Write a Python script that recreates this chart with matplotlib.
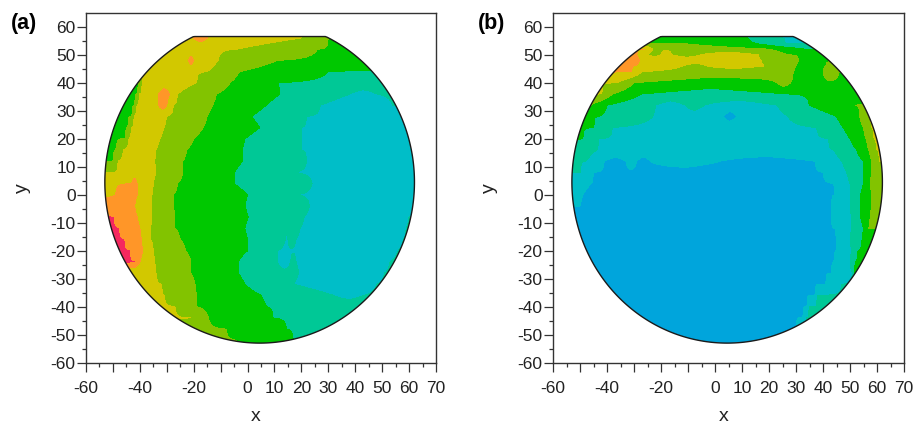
import numpy as np
import matplotlib
matplotlib.use("Agg")
import matplotlib.pyplot as plot
from matplotlib.patches import Polygon
from matplotlib.ticker import MultipleLocator

plot.rcParams['font.family'] = ['Liberation Sans', 'DejaVu Sans']
plot.rcParams['axes.unicode_minus'] = False

# band colours, low to high
band_colors = ['#00A5DC', '#00BEC8', '#00C896', '#00C800', '#82C300', '#D2C800', '#FF9628', '#F5285F']

x_ticks = [-60, -50, -40, -30, -20, -10, 0, 10, 20, 30, 40, 50, 60, 70]
x_labels = ['-60', '', '-40', '', '-20', '', '0', '10', '20', '30', '40', '50', '60', '70']
y_ticks = [-60, -50, -40, -30, -20, -10, 0, 10, 20, 30, 40, 50, 60]

# wafer outline
wafer_cx = 4.5
wafer_cy = 4.5
wafer_r = 57.5
wafer_flat = 56.5

# each row: band, x where it ends, next band, ...
rows_y_a = [60, 56, 52, 48, 44, 40, 36, 32, 28, 24, 20, 16, 12, 8, 4, 0, -4, -8, -12, -16,
            -20, -24, -28, -32, -36, -40, -44, -48, -52, -56]

rows_a = [
    [5, -12, 6, 0, 5, 22, 4, 32, 3],
    [5, -20, 6, -15, 5, 20, 4, 30, 3],
    [5, -4, 4, 26, 3],
    [5, -22, 6, -20, 5, -11, 4, 11, 3],
    [5, -15, 4, -3, 3, 30, 2],
    [3, -39.5, 4, -39, 5, -19, 4, -6.5, 3, 11, 2],
    [3, -41, 4, -40, 5, -33, 6, -29, 5, -26, 4, -11.5, 3, 12, 2, 38, 1, 48, 2],
    [3, -42, 4, -41, 5, -33, 6, -30, 5, -27.5, 4, -13, 3, 7, 2, 27, 1, 54, 2],
    [3, -43, 4, -42, 5, -30, 4, -15, 3, 1.5, 2, 22, 1],
    [3, -44.5, 4, -43, 5, -31, 4, -16.5, 3, 4.5, 2, 20, 1],
    [3, -45.5, 4, -44, 5, -32.5, 4, -20, 3, -1, 2, 20, 1],
    [3, -48.6, 4, -46, 5, -34, 4, -22.6, 3, -2, 2, 20, 1],
    [3, -50, 4, -48, 5, -34.5, 4, -24, 3, -2, 2, 22, 1],
    [4, -49, 5, -34, 4, -24, 3, -5, 2, 17, 1],
    [5, -43, 6, -41, 5, -35, 4, -26, 3, -5, 2, 24, 1],
    [5, -49, 6, -41, 5, -35.5, 4, -27.6, 3, 0, 2, 18, 1],
    [6, -42, 5, -35.6, 4, -27.6, 3, -1, 2, 23, 1],
    [7, -50, 6, -41, 5, -35.6, 4, -27, 3, 0.3, 2, 21, 1, 60, 2],
    [7, -48, 6, -40, 5, -36, 4, -27, 3, -1, 2, 19.5, 1, 59, 2],
    [7, -46, 6, -39.5, 5, -36, 4, -25, 3, 0, 2, 14, 1, 15, 2, 18, 1, 58, 2],
    [7, -44, 6, -39, 5, -35, 4, -23, 3, 0, 2, 11, 1, 56, 2],
    [7, -42, 6, -40, 5, -34.5, 4, -21, 3, -3.5, 2, 11, 1, 16, 2, 18, 1, 53, 2],
    [5, -34, 4, -21, 3, -3.5, 2, 19, 1, 51, 2],
    [5, -32, 4, -19.5, 3, -1, 2, 17, 1, 48, 2],
    [5, -31, 4, -19, 3, 5, 2, 32, 1, 43, 2],
    [5, -27, 4, -19, 3, 7, 2],
    [5, -21, 4, -14.6, 3, 9.5, 2],
    [4, -8, 3, 14.5, 2],
    [4, -4, 3, 17, 2],
    [4, -4, 3, 17, 2],
]

rows_y_b = [60, 56, 54, 52, 50, 48, 46, 44, 40, 36, 32, 28, 24, 20, 16, 12, 8, 4, 0, -4, -8, -12, -16,
            -20, -24, -28, -32, -36, -40, -44, -48, -52, -56]

rows_b = [
    [2, -9, 1, 19, 2, 24, 0],
    [3, 12, 2, 25, 1],
    [4, -12, 3, 15, 2, 26, 1],
    [6, -26, 5, -23, 4, 20, 3, 33, 2],
    [6, -29, 5, -25, 4, -20, 5, -16, 4, -5, 5, 16, 4, 27, 3],
    [7, -33, 6, -28, 5, 17, 4, 31, 3],
    [6, -30, 5, -12, 4, -3, 5, 18, 4, 30, 3, 41, 4, 46, 3],
    [6, -31, 5, -27, 4, 29, 3, 40, 4, 46, 3],
    [5, -36, 4, -30, 3, 23, 4, 28, 3],
    [5, -42, 4, -38, 3, -27, 2, 27, 3],
    [4, -46, 3, -40, 2, -22, 1, -11, 2, -4, 1, 23, 2, 35, 3, 52, 4],
    [3, -43, 2, -23, 1, 3, 0, 8, 1, 27, 2, 45, 3, 53.7, 4, 57, 5],
    [3, -45, 2, -38, 1, 37.7, 2, 47.5, 3, 55, 4, 58, 5],
    [3, -49, 2, -43, 1, 42, 2, 50, 3, 56, 4, 58.6, 5],
    [3, -52, 2, -44, 1, 44, 2, 52.5, 3, 57, 4, 60, 5],
    [2, -48, 1, -41, 0, -33, 1, -29, 0, -24, 1, 2, 0, 37, 1, 47, 2, 55, 3, 58, 4, 61, 5],
    [2, -50, 1, -45, 0, 40, 1, 48.8, 2, 55, 3, 58, 4],
    [1, -46, 0, 44, 1, 50, 2, 55, 3, 57.4, 4],
    [1, -49, 0, 44.5, 1, 50, 2, 54, 3, 58, 4],
    [1, -50, 0, 43, 1, 50, 2, 54, 3, 58, 4],
    [0, 43, 1, 50.6, 2, 54, 3, 57.4, 4],
    [0, 44.5, 1, 50.6, 2, 55, 3, 57, 4],
    [0, 45, 1, 50, 2, 54.3, 3],
    [0, 45, 1, 50.6, 2, 53, 3],
    [0, 44, 1, 50, 2, 52, 3],
    [0, 43, 1, 51, 2, 51.5, 3],
    [0, 41, 1, 47, 2],
    [0, 37, 1, 38, 2],
    [0, 34, 1, 35, 2],
    [0, 32.6, 1, 33.6, 2],
    [0, 30, 1, 31, 2],
    [0],
    [0],
]


def make_field(rows, xgrid):
    # turn the rows into a field whose contours cross at the given x
    field = []
    for row in rows:
        bands = row[0::2]
        edges = row[1::2]
        if len(edges) == 0:
            field.append(np.full(len(xgrid), float(bands[0])))
            continue
        px = [-100.0]
        pv = [float(bands[0])]
        for i in range(len(edges)):
            px.append(edges[i])
            pv.append((bands[i] + bands[i + 1]) / 2.0)
            if i + 1 < len(edges):
                px.append((edges[i] + edges[i + 1]) / 2.0)
                pv.append(float(bands[i + 1]))
        px.append(100.0)
        pv.append(float(bands[-1]))
        field.append(np.interp(xgrid, px, pv))
    return np.array(field)


def draw_panel(ax, rows_y, rows, tag):
    xgrid = np.arange(-60, 70.5, 0.5)
    field = make_field(rows, xgrid)
    cs = ax.contourf(xgrid, rows_y, field, levels=np.arange(-0.5, 8.5, 1.0), colors=band_colors)

    t = np.linspace(0, 2 * np.pi, 500)
    outline = np.column_stack([wafer_cx + wafer_r * np.cos(t),
                               np.minimum(wafer_cy + wafer_r * np.sin(t), wafer_flat)])
    wafer = Polygon(outline, closed=True, facecolor='none', edgecolor='#1a1a1a', lw=1.0, zorder=3)
    ax.add_patch(wafer)
    cs.set_clip_path(wafer)

    ax.set_xlim([-60, 70])
    ax.set_ylim([-60, 64.8])
    ax.set_xticks(x_ticks)
    ax.set_xticklabels(x_labels)
    ax.set_yticks(y_ticks)
    ax.xaxis.set_minor_locator(MultipleLocator(5))
    ax.yaxis.set_minor_locator(MultipleLocator(5))
    ax.tick_params(which='major', length=6.5, width=0.9, labelsize=12.5, color='#333333', labelcolor='#222222')
    ax.tick_params(which='minor', length=3, width=0.9, color='#333333')
    ax.tick_params(axis='x', which='major', pad=6.5)
    ax.tick_params(axis='y', which='major', pad=1)
    for s in ax.spines.values():
        s.set_linewidth(1.0)
        s.set_color('#333333')
    ax.set_xlabel('x', fontsize=14, color='#222222', labelpad=9, x=0.485)
    ax.set_ylabel('y', fontsize=14, color='#222222', labelpad=14)
    ax.text(-0.215, 0.97, tag, transform=ax.transAxes, fontsize=15.5, fontweight='bold', va='center', ha='left')


fig = plot.figure(figsize=(9.13, 4.24), dpi=100)
ax_a = fig.add_axes([86 / 913, 1 - 362.7 / 424, 350 / 913, 349.4 / 424])
ax_b = fig.add_axes([553 / 913, 1 - 362.7 / 424, 351 / 913, 349.4 / 424])

draw_panel(ax_a, rows_y_a, rows_a, '(a)')
draw_panel(ax_b, rows_y_b, rows_b, '(b)')

fig.savefig('out.png', dpi=100)
plot.close()
